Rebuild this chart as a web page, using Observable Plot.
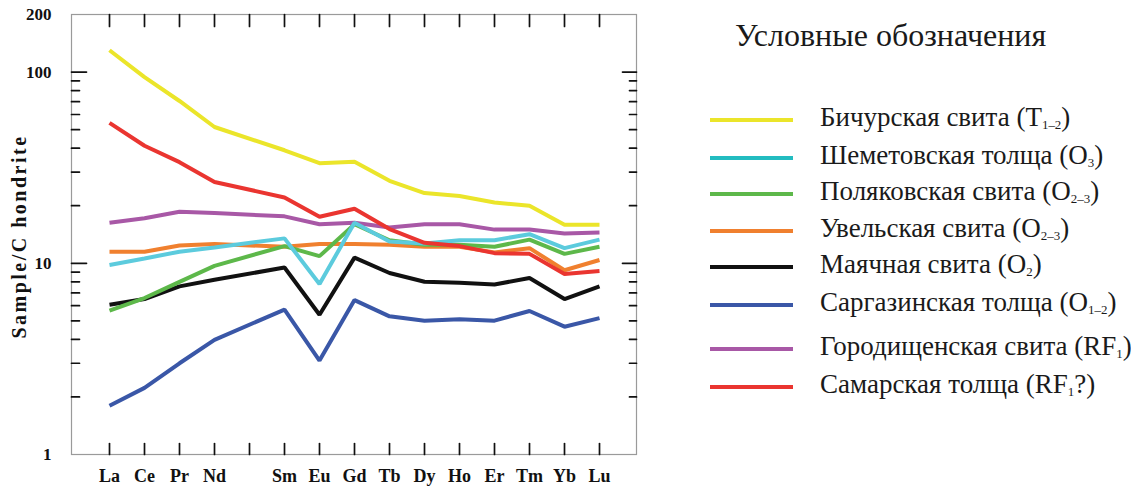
<!DOCTYPE html>
<html><head><meta charset="utf-8">
<script src="https://cdn.jsdelivr.net/npm/d3@7"></script>
<script src="https://cdn.jsdelivr.net/npm/@observablehq/plot@0.6"></script>
<style>
body{margin:0;background:#fff;}
#wrap{position:relative;width:1131px;height:488px;overflow:hidden;font-family:"Liberation Serif","Times New Roman",serif;color:#1a1a1a;}
#chart{position:absolute;left:0;top:0;}
.leg-title{position:absolute;left:735px;top:19px;font-size:32px;line-height:1;white-space:nowrap;}
.row{position:absolute;left:710px;height:30px;display:flex;align-items:center;}
.sw{width:83px;height:4px;margin-right:27px;flex:none;}
.lab{font-size:27px;line-height:30px;white-space:nowrap;position:relative;top:-3px;}
.lab sub{font-size:0.48em;vertical-align:-0.2em;line-height:0;}
</style>
</head><body>
<div id="wrap"><div id="chart"></div><div id="legend"></div></div>
<script>
// x positions (Pm has a tick but no data / label)
const elements = ["La","Ce","Pr","Nd","Pm","Sm","Eu","Gd","Tb","Dy","Ho","Er","Tm","Yb","Lu"];
const ree = ["La","Ce","Pr","Nd","Sm","Eu","Gd","Tb","Dy","Ho","Er","Tm","Yb","Lu"];

const seriesNames = ["Бичурская свита","Шеметовская толща","Поляковская свита","Увельская свита","Маячная свита","Саргазинская толща","Городищенская свита","Самарская толща"];
const ageMain = ["T","O","O","O","O","O","RF","RF"];
const ageSub  = ["1–2","3","2–3","2–3","2","1–2","1","1"];
const ageEnd  = ["","","","","","","","?"];

const bichur = [130,94,70.6,51.6,39,33.4,34,27,23.3,22.5,20.8,20.0,15.9,15.9];
const shemet = [9.8,10.6,11.5,12.1,13.5,7.8,16.3,13.0,12.7,13.2,13.2,14.2,12.0,13.3];
const polyak = [5.65,6.58,8.0,9.7,12.3,10.9,16.0,13.2,12.5,12.5,12.2,13.3,11.2,12.2];
const uvel   = [11.5,11.5,12.4,12.6,12.2,12.6,12.6,12.5,12.2,12.2,11.4,12.0,9.2,10.4];
const mayach = [6.07,6.5,7.57,8.2,9.5,5.38,10.7,8.9,8.0,7.9,7.75,8.37,6.5,7.57];
const sargaz = [1.80,2.23,3.0,3.98,5.72,3.1,6.42,5.28,5.01,5.09,5.01,5.63,4.66,5.17];
const gorod  = [16.3,17.2,18.6,18.3,17.6,16.0,16.3,15.4,16.0,16.0,15.0,15.0,14.3,14.5];
const samar  = [54.2,41.2,33.8,26.6,22.1,17.5,19.3,15.1,12.8,12.3,11.3,11.2,8.8,9.1];

const yLabelTicks = [1,10,100,200];
const yMajor = [10,100];
const yMinor = [2,3,4,5,6,7,8,9,20,30,40,50,60,70,80,90];

// styling
const lineColors = ["#ebe52a","#5ccbdd","#5db84a","#f0802f","#111111","#3a57a7","#a858a6","#ea3530"];
const swatchColors = ["#ebe52a","#22bcc0","#5db84a","#f0802f","#111111","#3a57a7","#a858a6","#ea3530"];
const legendY = [120,158,194,231,267,305,349,387];

const values = [bichur,shemet,polyak,uvel,mayach,sargaz,gorod,samar];
const rows = [];
values.forEach((arr,i)=> ree.forEach((el,j)=> rows.push({series: seriesNames[i], el, v: arr[j]})));
// draw order: later legend entries underneath
const drawOrder = [6,3,5,4,2,1,7,0];
const ordered = drawOrder.flatMap(i => rows.filter(r => r.series === seriesNames[i]));

const tickShape = {draw(context, l){ context.moveTo(0,0); context.lineTo(0,-l); }};
const tickStyle = {stroke:"#111", strokeWidth:1.7, shape: tickShape, anchor:"start"};

const chart = Plot.plot({
  width: 660, height: 488,
  marginLeft: 71, marginRight: 24, marginTop: 14, marginBottom: 34,
  style: {fontFamily: "'Liberation Serif', serif", fontWeight: "bold", fontSize: "17px", color: "#111", background: "transparent"},
  x: {type: "point", domain: elements, padding: 1},
  y: {type: "log", domain: [1, 200]},
  color: {domain: seriesNames, range: lineColors},
  marks: [
    Plot.frame({stroke: "#9a9a9a", strokeWidth: 1.2}),
    Plot.line(ordered, {x: "el", y: "v", z: "series", stroke: "series", strokeWidth: 4, strokeLinejoin: "miter", strokeLinecap: "butt"}),
    Plot.vector(elements, {x: d => d, frameAnchor: "top", length: 12, rotate: 180, ...tickStyle}),
    Plot.vector(elements, {x: d => d, frameAnchor: "bottom", length: 11, rotate: 0, ...tickStyle}),
    Plot.vector(yMajor, {y: d => d, frameAnchor: "left", length: 15, rotate: 90, ...tickStyle}),
    Plot.vector(yMinor, {y: d => d, frameAnchor: "left", length: 8, rotate: 90, ...tickStyle}),
    Plot.vector(yMajor, {y: d => d, frameAnchor: "right", length: 14, rotate: -90, ...tickStyle}),
    Plot.vector(yMinor, {y: d => d, frameAnchor: "right", length: 7, rotate: -90, ...tickStyle}),
    Plot.axisX({anchor: "bottom", tickSize: 0, tickPadding: 15, tickFormat: d => d === "Pm" ? "" : d, fontWeight: "bold", fontSize: 18, label: null}),
    Plot.axisY({anchor: "left", ticks: yLabelTicks, tickSize: 0, tickPadding: 20, tickFormat: d => String(d), fontWeight: "bold", fontSize: 17, label: null}),
    Plot.text(["Sample/C hondrite"], {frameAnchor: "left", textAnchor: "middle", dx: -52, dy: 2, rotate: -90, fontSize: 20, fontWeight: "bold", fill: "#111"})
  ]
});
d3.select(chart).selectAll("text").filter(function(){ return this.textContent === "Sample/C hondrite"; }).attr("letter-spacing", 2.5);
document.getElementById("chart").appendChild(chart);

// legend
const leg = document.getElementById("legend");
const title = document.createElement("div");
title.className = "leg-title";
title.textContent = "Условные обозначения";
leg.appendChild(title);
seriesNames.forEach((name, i) => {
  const row = document.createElement("div");
  row.className = "row";
  row.style.top = (legendY[i] - 15) + "px";
  const sw = document.createElement("div");
  sw.className = "sw";
  sw.style.background = swatchColors[i];
  const lab = document.createElement("span");
  lab.className = "lab";
  lab.append(name + " (" + ageMain[i]);
  const sub = document.createElement("sub");
  sub.textContent = ageSub[i];
  lab.append(sub);
  lab.append(ageEnd[i] + ")");
  row.appendChild(sw);
  row.appendChild(lab);
  leg.appendChild(row);
});
</script>
</body></html>
